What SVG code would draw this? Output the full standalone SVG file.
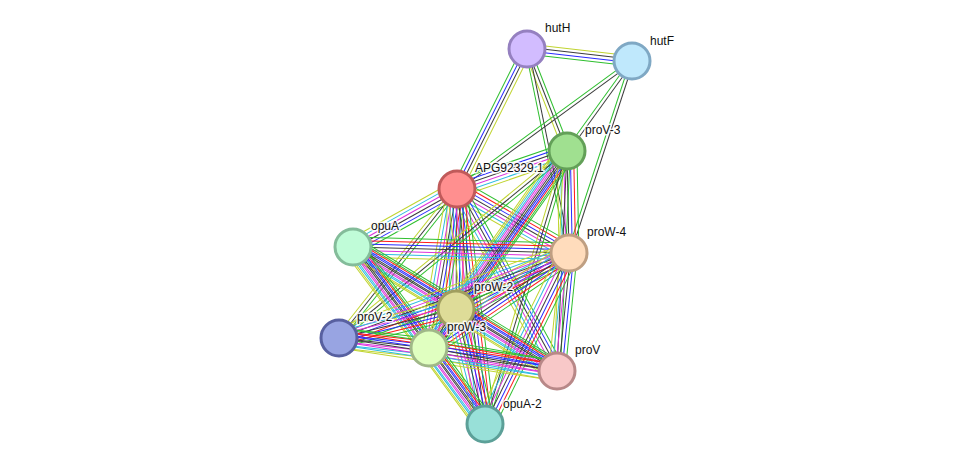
<svg xmlns="http://www.w3.org/2000/svg" width="975" height="470" viewBox="0 0 975 470">
<style>
.g{stroke:#2fbf2f}.r{stroke:#ff1a1a}.b{stroke:#2a2aff}.k{stroke:#3c3c3c}.m{stroke:#dd33dd}.c{stroke:#2cbce0}.y{stroke:#c0d430}
#edges line{stroke-width:2;fill:none}
.node circle{stroke-width:3}
.node text{font-family:"Liberation Sans",Arial,sans-serif;font-size:12px;fill:#111;stroke:#fff;stroke-width:3;stroke-opacity:0.85;paint-order:stroke;stroke-linejoin:round}
</style>
<defs>
<g id="b7"><line class="g" x1="0" x2="1" y1="-9.9" y2="-9.9"/><line class="r" x1="0" x2="1" y1="-6.6" y2="-6.6"/><line class="b" x1="0" x2="1" y1="-3.3" y2="-3.3"/><line class="k" x1="0" x2="1" y1="0" y2="0"/><line class="m" x1="0" x2="1" y1="3.3" y2="3.3"/><line class="c" x1="0" x2="1" y1="6.6" y2="6.6"/><line class="y" x1="0" x2="1" y1="9.9" y2="9.9"/></g>
<g id="b6"><line class="g" x1="0" x2="1" y1="-8.25" y2="-8.25"/><line class="b" x1="0" x2="1" y1="-4.95" y2="-4.95"/><line class="k" x1="0" x2="1" y1="-1.65" y2="-1.65"/><line class="m" x1="0" x2="1" y1="1.65" y2="1.65"/><line class="c" x1="0" x2="1" y1="4.95" y2="4.95"/><line class="y" x1="0" x2="1" y1="8.25" y2="8.25"/></g>
<g id="b4"><line class="y" x1="0" x2="1" y1="-4.95" y2="-4.95"/><line class="k" x1="0" x2="1" y1="-1.65" y2="-1.65"/><line class="b" x1="0" x2="1" y1="1.65" y2="1.65"/><line class="g" x1="0" x2="1" y1="4.95" y2="4.95"/></g>
<g id="b3"><line class="g" x1="0" x2="1" y1="-3.3" y2="-3.3"/><line class="k" x1="0" x2="1" y1="0" y2="0"/><line class="y" x1="0" x2="1" y1="3.3" y2="3.3"/></g>
<g id="b2"><line class="k" x1="0" x2="1" y1="-1.65" y2="-1.65"/><line class="g" x1="0" x2="1" y1="1.65" y2="1.65"/></g>
</defs>
<rect width="975" height="470" fill="#fff"/>
<g id="edges">
<use href="#b4" transform="matrix(105 12 -0.1136 0.9936 527 49)"/>
<use href="#b4" transform="matrix(-70 140 -0.8944 -0.4472 527 49)"/>
<use href="#b3" transform="matrix(40 102 -0.9310 0.3651 527 49)"/>
<use href="#b2" transform="matrix(42 204 -0.9795 0.2017 527 49)"/>
<use href="#b2" transform="matrix(-175 128 -0.5904 -0.8071 632 61)"/>
<use href="#b2" transform="matrix(-65 90 -0.8107 -0.5855 632 61)"/>
<use href="#b2" transform="matrix(-63 192 -0.9502 -0.3118 632 61)"/>
<use href="#b6" transform="matrix(110 -38 0.3265 0.9452 457 189)"/>
<use href="#b6" transform="matrix(-104 58 -0.4871 -0.8734 457 189)"/>
<use href="#b7" transform="matrix(112 64 -0.4961 0.8683 457 189)"/>
<use href="#b7" transform="matrix(-1 120 -1 -0.0083 457 189)"/>
<use href="#b3" transform="matrix(-118 149 -0.7839 -0.6208 457 189)"/>
<use href="#b7" transform="matrix(-28 159 -0.9848 -0.1734 457 189)"/>
<use href="#b6" transform="matrix(100 182 -0.8764 0.4816 457 189)"/>
<use href="#b7" transform="matrix(28 235 -0.9930 0.1183 457 189)"/>
<use href="#b7" transform="matrix(2 102 -0.9998 0.0196 567 151)"/>
<use href="#b7" transform="matrix(-111 158 -0.8183 -0.5749 567 151)"/>
<use href="#b3" transform="matrix(-228 187 -0.6342 -0.7732 567 151)"/>
<use href="#b6" transform="matrix(-138 197 -0.8190 -0.5737 567 151)"/>
<use href="#b3" transform="matrix(-10 220 -0.9990 -0.0454 567 151)"/>
<use href="#b3" transform="matrix(-82 273 -0.9577 -0.2877 567 151)"/>
<use href="#b7" transform="matrix(216 6 -0.0278 0.9996 353 247)"/>
<use href="#b7" transform="matrix(103 62 -0.5157 0.8568 353 247)"/>
<use href="#b7" transform="matrix(76 101 -0.7991 0.6013 353 247)"/>
<use href="#b6" transform="matrix(204 124 -0.5194 0.8545 353 247)"/>
<use href="#b6" transform="matrix(132 177 -0.8016 0.5978 353 247)"/>
<use href="#b7" transform="matrix(-113 56 -0.4440 -0.8960 569 253)"/>
<use href="#b7" transform="matrix(-230 85 -0.3467 -0.9380 569 253)"/>
<use href="#b7" transform="matrix(-140 95 -0.5615 -0.8275 569 253)"/>
<use href="#b6" transform="matrix(-12 118 -0.9949 -0.1012 569 253)"/>
<use href="#b7" transform="matrix(-84 171 -0.8975 -0.4409 569 253)"/>
<use href="#b7" transform="matrix(-117 29 -0.2406 -0.9706 456 309)"/>
<use href="#b7" transform="matrix(-27 39 -0.8222 -0.5692 456 309)"/>
<use href="#b7" transform="matrix(101 62 -0.5232 0.8522 456 309)"/>
<use href="#b7" transform="matrix(29 115 -0.9696 0.2445 456 309)"/>
<use href="#b7" transform="matrix(90 10 -0.1104 0.9939 339 338)"/>
<use href="#b7" transform="matrix(218 33 -0.1497 0.9888 339 338)"/>
<use href="#b7" transform="matrix(128 23 -0.1769 0.9842 429 348)"/>
<use href="#b7" transform="matrix(56 76 -0.8051 0.5932 429 348)"/>
</g>
<g id="n-hutH" class="node"><circle cx="527" cy="49" r="18" fill="#d2bcff" stroke="#9580c0"/><text x="545" y="32">hutH</text></g>
<g id="n-hutF" class="node"><circle cx="632" cy="61" r="18" fill="#bfe8fc" stroke="#7fa8c4"/><text x="650" y="45">hutF</text></g>
<g id="n-proV-3" class="node"><circle cx="567" cy="151" r="18" fill="#a0e090" stroke="#63a058"/><text x="585" y="134">proV-3</text></g>
<g id="n-APG92329.1" class="node"><circle cx="457" cy="189" r="18" fill="#ff8f8f" stroke="#c05a5a"/><text x="475" y="172">APG92329.1</text></g>
<g id="n-opuA" class="node"><circle cx="353" cy="247" r="18" fill="#c0fcd8" stroke="#84bc9a"/><text x="371" y="230">opuA</text></g>
<g id="n-proW-4" class="node"><circle cx="569" cy="253" r="18" fill="#ffdcbc" stroke="#bf9f82"/><text x="587" y="236">proW-4</text></g>
<g id="n-proV" class="node"><circle cx="557" cy="371" r="18" fill="#f8c8c8" stroke="#b88888"/><text x="575" y="354">proV</text></g>
<g id="n-opuA-2" class="node"><circle cx="485" cy="424" r="18" fill="#98e0d8" stroke="#5ca098"/><text x="503" y="408">opuA-2</text></g>
<g id="n-proV-2" class="node"><circle cx="339" cy="338" r="18" fill="#98a4e2" stroke="#5860a0"/><text x="357" y="321">proV-2</text></g>
<g id="n-proW-2" class="node"><circle cx="456" cy="309" r="18" fill="#dedc98" stroke="#a09e5e"/><text x="474" y="291">proW-2</text></g>
<g id="n-proW-3" class="node"><circle cx="429" cy="348" r="18" fill="#e0ffc0" stroke="#a0b888"/><text x="447" y="331">proW-3</text></g>
</svg>
